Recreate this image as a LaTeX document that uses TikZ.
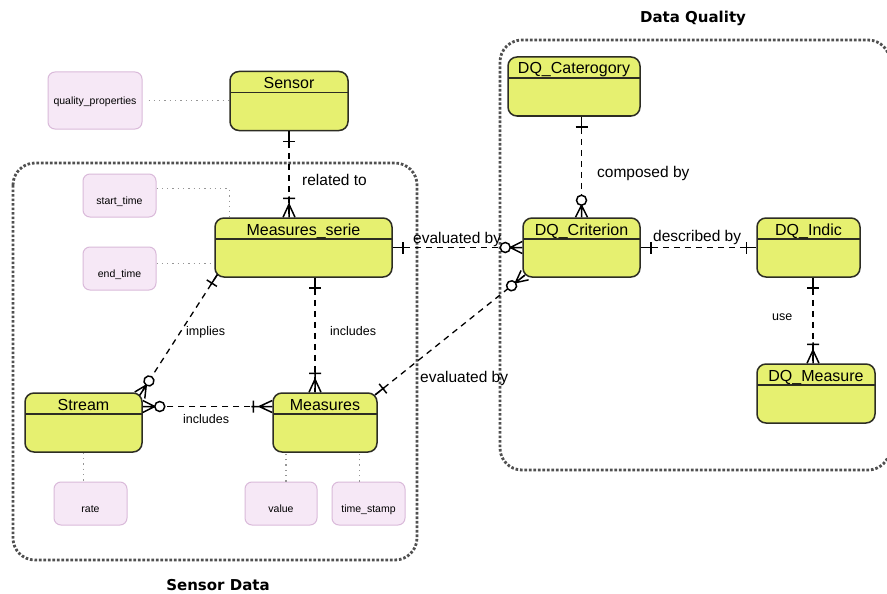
\documentclass[tikz,border=0pt]{standalone}
\usepackage{fontspec}
\setmainfont{Liberation Sans}
\newfontfamily\titlefont{DejaVu Sans}
\usetikzlibrary{decorations.markings}

\definecolor{entyellow}{RGB}{230,240,112}
\definecolor{edgegray}{RGB}{45,45,35}
\definecolor{attrfill}{RGB}{246,232,246}
\definecolor{attrborder}{RGB}{218,186,218}
\definecolor{dotgray}{RGB}{150,150,150}
\definecolor{groupgray}{RGB}{80,80,80}

%% ER end marks, drawn in the mark's own frame (entity at x=0)
\newcommand{\erbar}{\draw[solid,line width=1.5pt] (-10pt,-6pt) -- (-10pt,6pt) (-12pt,0pt) -- (0pt,0pt);}
\newcommand{\ermany}{\draw[solid,line width=1.5pt] (-19pt,-6pt) -- (-19pt,6pt) (-21pt,0pt) -- (0pt,0pt) (0pt,6pt) -- (-13pt,0pt) -- (0pt,-6pt);}
\newcommand{\erzmany}{\draw[solid,line width=1.5pt] (0pt,6pt) -- (-12pt,0pt) -- (0pt,-6pt) (-12pt,0pt) -- (0pt,0pt);
  \draw[solid,line width=1.5pt,fill=white] (-17pt,0pt) circle (5pt);}

\tikzset{
  entity/.style={draw=edgegray, fill=entyellow, rounded corners=9pt, line width=1.5pt,
    minimum height=59pt, inner sep=3pt, text height=14pt, text depth=39pt,
    font=\fontsize{16}{16}\selectfont,
    path picture={\draw[line width=1.3pt,edgegray]
      ([yshift=-21pt]path picture bounding box.north west) --
      ([yshift=-21pt]path picture bounding box.north east);}},
  attrib/.style={draw=attrborder, fill=attrfill, rounded corners=7pt, line width=1pt,
    minimum height=43pt, inner sep=2pt, text height=18pt, text depth=0pt,
    font=\fontsize{10.5}{10.5}\selectfont},
  attrline/.style={draw=dotgray, line width=1.3pt, dash pattern=on 1.3pt off 4pt},
  group/.style={draw=groupgray, line width=2.8pt, dash pattern=on 2.6pt off 1.9pt, rounded corners=22pt},
  grouptitle/.style={anchor=base, font=\titlefont\bfseries\fontsize{15}{15}\selectfont},
  rel/.style={draw=black, line width=1.3pt, dash pattern=on 6pt off 5pt},
  biglabel/.style={anchor=base west, inner sep=0pt, font=\fontsize{15.5}{15.5}\selectfont},
  smalllabel/.style={anchor=base west, inner sep=0pt, font=\fontsize{12.5}{12.5}\selectfont},
  barstart/.style={postaction={decorate,decoration={markings,
    mark=at position 0 with {\begin{scope}[xscale=-1]\erbar\end{scope}}}}},
  manystart/.style={postaction={decorate,decoration={markings,
    mark=at position 0 with {\begin{scope}[xscale=-1]\ermany\end{scope}}}}},
  barend/.style={postaction={decorate,decoration={markings,
    mark=at position 1 with {\erbar}}}},
  manyend/.style={postaction={decorate,decoration={markings,
    mark=at position 1 with {\ermany}}}},
  zmanyend/.style={postaction={decorate,decoration={markings,
    mark=at position 1 with {\erzmany}}}}
}

\begin{document}
\begin{tikzpicture}[x=1pt,y=-1pt]
    \useasboundingbox[fill=white] (0,0) rectangle (887,594);
    %% Groups
    \draw[group] (13,163) rectangle (417,560);
    \draw[group] (500,40) rectangle (890,470);
    \node[grouptitle] (tsensor) at (218,590) {Sensor Data};
    \node[grouptitle] (tquality) at (693,23) {Data Quality};
    %% Entities
    \node[entity, minimum width=118pt] (sensor) at (289,101) {Sensor};
    \node[entity, minimum width=177pt] (mserie) at (303.5,247.5) {Measures\_serie};
    \node[entity, minimum width=117pt] (stream) at (83.5,422.5) {Stream};
    \node[entity, minimum width=104pt] (measures) at (325,422.5) {Measures};
    \node[entity, minimum width=132pt] (dqcat) at (574,86.5) {DQ\_Caterogory};
    \node[entity, minimum width=117pt] (dqcrit) at (581.5,247.5) {DQ\_Criterion};
    \node[entity, minimum width=103pt] (dqindic) at (808.5,247.5) {DQ\_Indic};
    \node[entity, minimum width=118pt] (dqmeasure) at (816,393.5) {DQ\_Measure};
    %% Attributes
    \node[attrib, minimum width=94pt, minimum height=57pt, text height=9pt] (qprop) at (95,100.5) {quality\_properties};
    \node[attrib, minimum width=73pt] (starttime) at (119.5,195.5) {start\_time};
    \node[attrib, minimum width=73pt] (endtime) at (119.5,268.5) {end\_time};
    \node[attrib, minimum width=73pt] (rate) at (90.5,503.5) {rate};
    \node[attrib, minimum width=72pt] (value) at (281,503.5) {value};
    \node[attrib, minimum width=73pt] (timestamp) at (368.5,503.5) {time\_stamp};
    \draw[attrline] ([xshift=6pt]qprop.east) -- (qprop.east -| sensor.west);
    \draw[attrline] ([yshift=7pt]starttime.east) -| ([xshift=15pt]mserie.north west);
    \draw[attrline] ([yshift=5pt]endtime.east) -- ([yshift=5pt]endtime.east -| mserie.west);
    \draw[attrline] (stream.south) -- (stream.south |- rate.north);
    \draw[attrline] ([xshift=5pt]value.north) -- ([xshift=5pt]value.north |- measures.south);
    \draw[attrline] ([xshift=-9pt]timestamp.north) -- ([xshift=-9pt]timestamp.north |- measures.south);
    %% Relationships
    \draw[rel,barstart,manyend] (sensor.south) -- (sensor.south |- mserie.north);
    \draw[rel,barstart,zmanyend] (mserie.east) -- (dqcrit.west);
    \draw[rel,barstart,zmanyend] (dqcrit.north |- dqcat.south) -- (dqcrit.north);
    \draw[rel,barstart,barend] (dqcrit.east) -- (dqindic.west);
    \draw[rel,barstart,manyend] ([xshift=4.5pt]dqindic.south) -- ([xshift=4.5pt]dqindic.south |- dqmeasure.north);
    \draw[rel,barstart,manyend] ([xshift=-10pt]measures.north |- mserie.south) -- ([xshift=-10pt]measures.north);
    \draw[rel,barstart,zmanyend] ([shift={(3pt,3pt)}]mserie.south west) -- ([shift={(-3pt,-3pt)}]stream.north east);
    \draw[rel,manystart,zmanyend] ([yshift=16pt]measures.west) -- ([yshift=16pt]measures.west -| stream.east);
    \draw[rel,barstart,zmanyend] ([shift={(-2.6pt,-2.6pt)}]measures.north east) -- ([shift={(2.6pt,2.6pt)}]dqcrit.south west);
    %% Relationship labels
    \node[biglabel] (lrelated) at (302,185) {related to};
    \node[biglabel] (levaltop) at (413,243) {evaluated by};
    \node[biglabel] (lcomposed) at (597,177) {composed by};
    \node[biglabel] (ldescribed) at (653,241) {described by};
    \node[smalllabel] (luse) at (772,320) {use};
    \node[smalllabel] (lincludesv) at (330,335) {includes};
    \node[smalllabel] (limplies) at (186,335) {implies};
    \node[smalllabel] (lincludesh) at (183,423) {includes};
    \node[biglabel] (levallow) at (420,382) {evaluated by};
\end{tikzpicture}
\end{document}
